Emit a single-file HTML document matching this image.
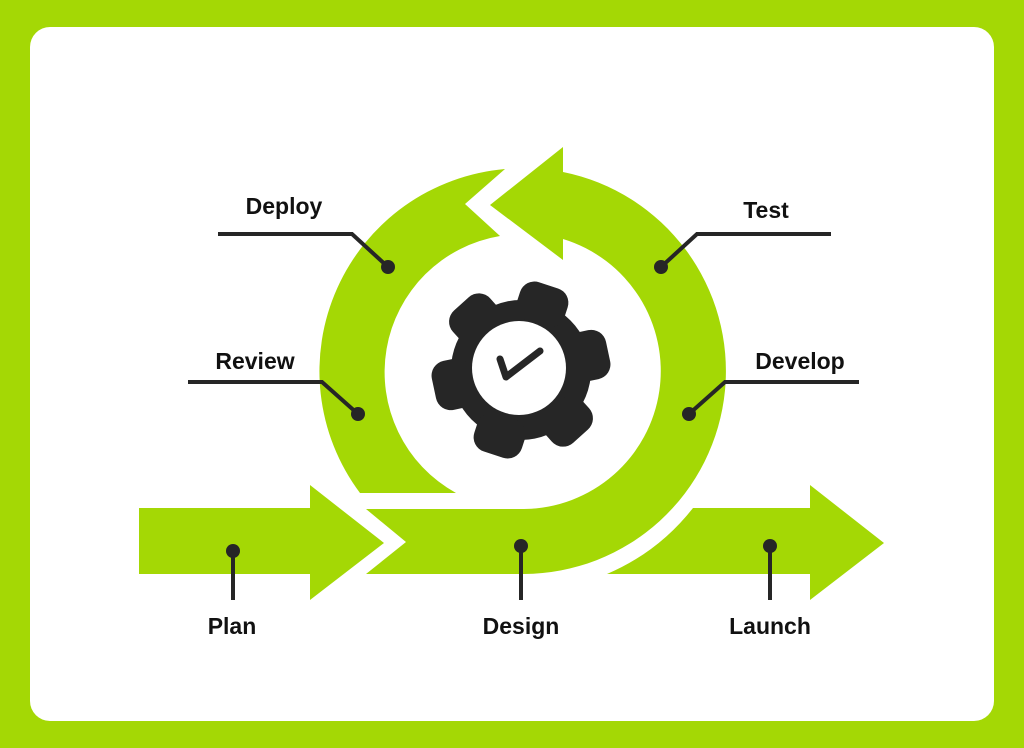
<!DOCTYPE html>
<html><head><meta charset="utf-8"><style>
html,body{margin:0;padding:0;background:#a4d805;}
svg{display:block}
text{font-family:"Liberation Sans",sans-serif;font-weight:bold;font-size:23px;fill:#111;}
</style></head><body>
<svg width="1024" height="748" viewBox="0 0 1024 748" xmlns="http://www.w3.org/2000/svg">
<rect x="0" y="0" width="1024" height="748" fill="#a4d805"/>
<rect x="30" y="27" width="964" height="694" rx="20" fill="#fff"/>
<g fill="#a4d805">
<path d="M366,509 L524,509 A138,138 0 0 0 563,239 L563,260 L490,205 L563,147 L563,172 A203,203 0 0 1 524,574 L366,574 L406,542 Z"/>
<path d="M360,493 L456,493 A138,138 0 0 1 500,236 L465,204 L505,169 A203,203 0 0 0 360,493 Z"/>
<path d="M139,508 L310,508 L310,485 L384,543 L310,600 L310,574 L139,574 Z"/>
<path d="M607,574 A218,218 0 0 0 693,508 L810,508 L810,485 L884,543 L810,600 L810,574 Z"/>
</g>
<g fill="#262626">
<circle cx="521" cy="370" r="70"/>
<g transform="translate(521,370)">
<rect x="-25" y="-89" width="50" height="40" rx="15" transform="rotate(18)"/>
<rect x="-25" y="-89" width="50" height="40" rx="15" transform="rotate(78)"/>
<rect x="-25" y="-89" width="50" height="40" rx="15" transform="rotate(138)"/>
<rect x="-25" y="-89" width="50" height="40" rx="15" transform="rotate(198)"/>
<rect x="-25" y="-89" width="50" height="40" rx="15" transform="rotate(258)"/>
<rect x="-25" y="-89" width="50" height="40" rx="15" transform="rotate(318)"/>
</g>
</g>
<circle cx="519" cy="368" r="47" fill="#fff"/>
<polyline points="500,359 506,377 540,351" fill="none" stroke="#262626" stroke-width="7" stroke-linecap="round" stroke-linejoin="round"/>
<g stroke="#262626" stroke-width="4" fill="none">
<polyline points="218,234 352,234 388,267"/>
<polyline points="188,382 322,382 358,414"/>
<polyline points="831,234 697,234 661,267"/>
<polyline points="859,382 725,382 689,414"/>
<line x1="233" y1="550" x2="233" y2="600"/>
<line x1="521" y1="545" x2="521" y2="600"/>
<line x1="770" y1="545" x2="770" y2="600"/>
</g>
<g fill="#262626">
<circle cx="388" cy="267" r="7"/>
<circle cx="358" cy="414" r="7"/>
<circle cx="661" cy="267" r="7"/>
<circle cx="689" cy="414" r="7"/>
<circle cx="233" cy="551" r="7"/>
<circle cx="521" cy="546" r="7"/>
<circle cx="770" cy="546" r="7"/>
</g>
<text x="284" y="214" text-anchor="middle">Deploy</text>
<text x="255" y="369" text-anchor="middle">Review</text>
<text x="766" y="218" text-anchor="middle">Test</text>
<text x="800" y="369" text-anchor="middle">Develop</text>
<text x="232" y="634" text-anchor="middle">Plan</text>
<text x="521" y="634" text-anchor="middle">Design</text>
<text x="770" y="634" text-anchor="middle">Launch</text>
</svg>
</body></html>
